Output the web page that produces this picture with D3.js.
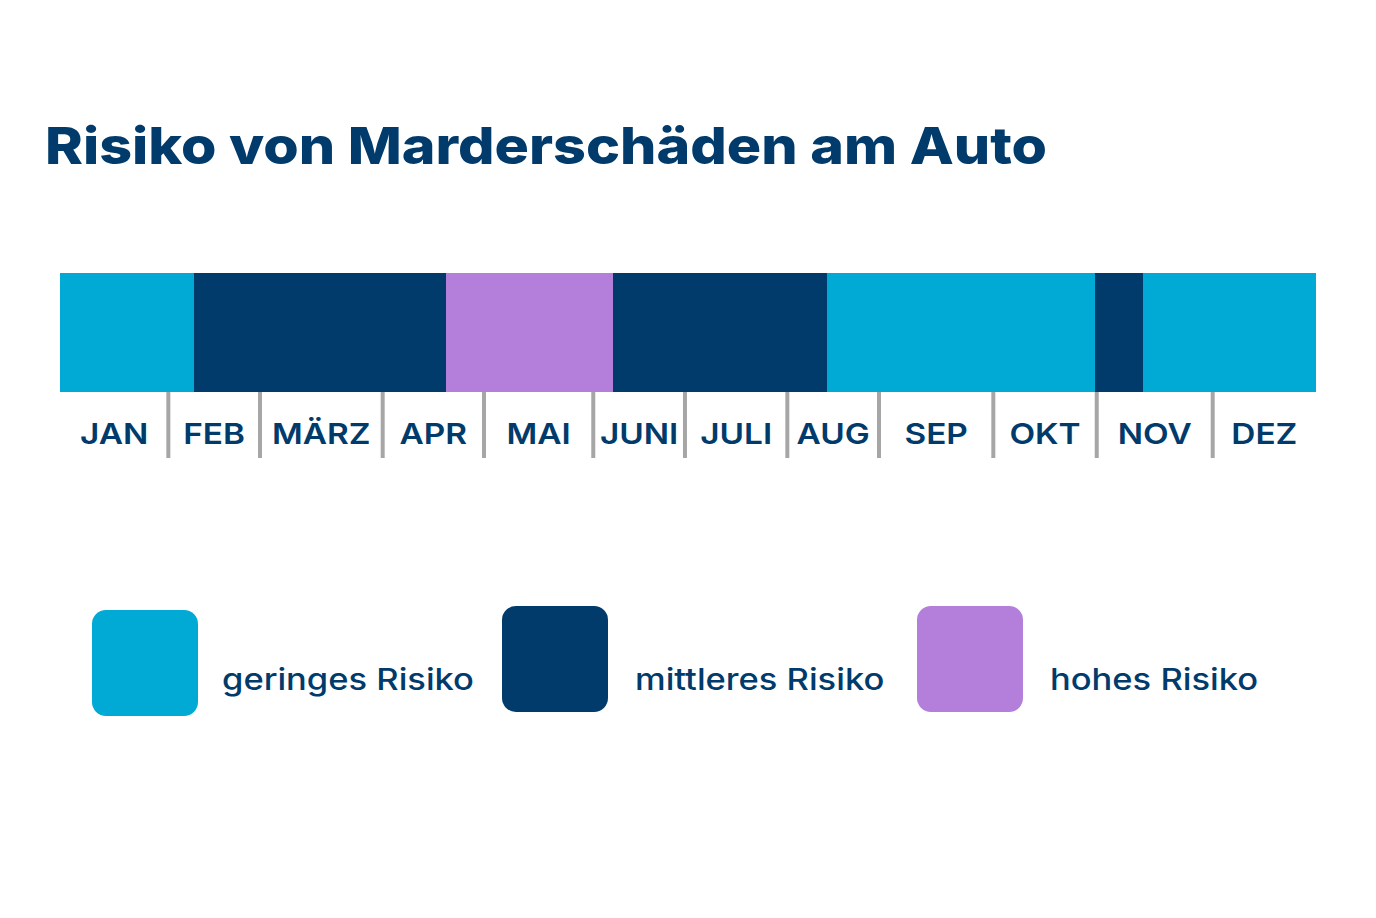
<!DOCTYPE html>
<html>
<head>
<meta charset="utf-8">
<script src="https://cdn.jsdelivr.net/npm/d3@7"></script>
<style>
  html, body { margin: 0; padding: 0; background: #ffffff; }
  svg { display: block; }
</style>
</head>
<body>
<svg id="chart" width="1376" height="918"></svg>
<script>
// ---- data ----
const title = "Risiko von Marderschäden am Auto";
const months = ["JAN", "FEB", "MÄRZ", "APR", "MAI", "JUNI", "JULI", "AUG", "SEP", "OKT", "NOV", "DEZ"];
// month boundaries along the year band (in month units, 0..12) as drawn in the graphic
const monthBounds = [0, 1.035, 1.911, 3.083, 4.051, 5.095, 5.971, 6.949, 7.825, 8.917, 9.905, 11.013, 12];
// risk periods: start, end (month units) and risk level
const periodStart = [0, 1.283, 3.685, 5.287, 7.331, 9.889, 10.350];
const periodEnd   = [1.283, 3.685, 5.287, 7.331, 9.889, 10.350, 12];
const periodRisk  = ["gering", "mittel", "hoch", "mittel", "gering", "mittel", "gering"];
const riskLevels = ["gering", "mittel", "hoch"];
const riskLabels = ["geringes Risiko", "mittleres Risiko", "hohes Risiko"];
const riskColors = ["#00aad4", "#003b6b", "#b37fda"];

// ---- layout ----
const svg = d3.select("#chart");
const navy = "#003b6b";
const x = d3.scaleLinear().domain([0, 12]).range([60, 1316]);
const color = d3.scaleOrdinal().domain(riskLevels).range(riskColors);
const bandTop = 273, bandBottom = 392;

// title
const t = svg.append("text")
  .attr("x", 45).attr("y", 164)
  .attr("font-family", "Inter, 'Open Sans', sans-serif")
  .attr("font-weight", 800)
  .attr("font-size", 51)
  .attr("fill", navy)
  .text(title);
t.attr("textLength", 1002).attr("lengthAdjust", "spacingAndGlyphs");

// band segments
const periods = periodStart.map((s, i) => ({ s, e: periodEnd[i], r: periodRisk[i] }));
svg.append("g").selectAll("rect").data(periods).join("rect")
  .attr("x", d => x(d.s))
  .attr("y", bandTop)
  .attr("width", d => x(d.e) - x(d.s))
  .attr("height", bandBottom - bandTop)
  .attr("fill", d => color(d.r))
  .attr("shape-rendering", "crispEdges");

// separators (inner month boundaries)
svg.append("g").selectAll("line").data(monthBounds.slice(1, -1)).join("line")
  .attr("x1", d => x(d)).attr("x2", d => x(d))
  .attr("y1", bandBottom).attr("y2", 458)
  .attr("stroke", "#a6a6a6")
  .attr("stroke-width", 4);

// month labels
const labelStretch = 1.15;
svg.append("g").selectAll("text").data(months).join("text")
  .attr("x", (d, i) => (x(monthBounds[i]) + x(monthBounds[i + 1])) / 2)
  .attr("y", 444)
  .attr("text-anchor", "middle")
  .attr("font-family", "Inter, 'Open Sans', sans-serif")
  .attr("font-weight", 600)
  .attr("font-size", 29)
  .attr("fill", navy)
  .text(d => d)
  .each(function () {
    const w = this.getComputedTextLength();
    d3.select(this).attr("textLength", w * labelStretch).attr("lengthAdjust", "spacingAndGlyphs");
  });

// legend
const legendStretch = 1.15;
const legendSwatchX = [92, 502, 917];
const legendSwatchY = [610, 606, 606];
const legendTextX = [222, 635, 1050];
const lg = svg.append("g").selectAll("g").data(riskLevels).join("g");
lg.append("rect")
  .attr("x", (d, i) => legendSwatchX[i])
  .attr("y", (d, i) => legendSwatchY[i])
  .attr("width", 106).attr("height", 106)
  .attr("rx", 14).attr("ry", 14)
  .attr("fill", d => color(d));
lg.append("text")
  .attr("x", (d, i) => legendTextX[i])
  .attr("y", 690)
  .attr("font-family", "Inter, 'Open Sans', sans-serif")
  .attr("font-weight", 500)
  .attr("font-size", 30)
  .attr("fill", navy)
  .text((d, i) => riskLabels[i])
  .each(function () {
    const w = this.getComputedTextLength();
    d3.select(this).attr("textLength", w * legendStretch).attr("lengthAdjust", "spacingAndGlyphs");
  });
</script>
</body>
</html>
